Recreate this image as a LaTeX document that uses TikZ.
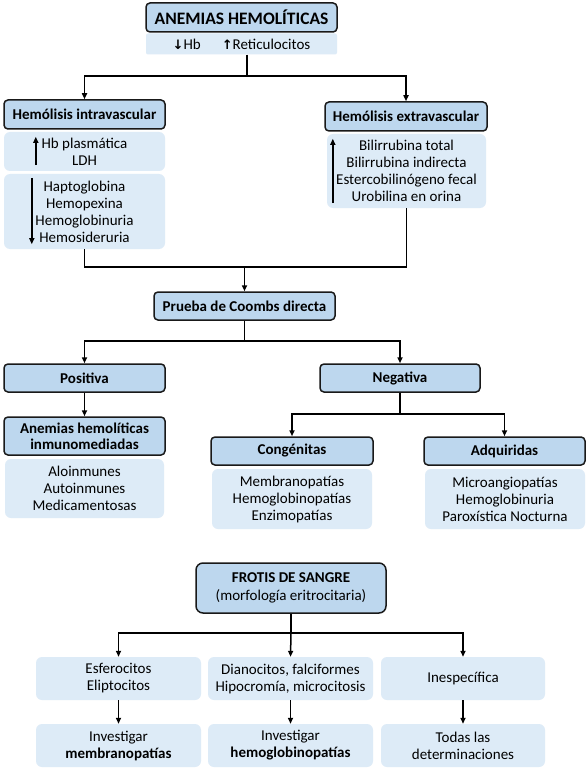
\documentclass[tikz,border=0pt]{standalone}
\usepackage{fontspec}
\setmainfont{Carlito}
\newfontfamily\arrowfont{DejaVu Sans}
\usetikzlibrary{arrows.meta}
\definecolor{hdrblue}{RGB}{189,215,238}
\definecolor{liteblue}{RGB}{221,235,247}
\newcommand{\flechaup}{{\arrowfont\fontsize{13}{13}\selectfont\bfseries ↑}}
\newcommand{\flechadn}{{\arrowfont\fontsize{13}{13}\selectfont\bfseries ↓}}
\tikzset{
  hdr/.style={draw=black!90, line width=1.5pt, rounded corners=4pt, fill=hdrblue,
    font=\fontsize{15}{17}\selectfont\bfseries, align=center, inner sep=0pt},
  lite/.style={fill=liteblue, rounded corners=6pt, align=center, inner sep=0pt,
    font=\fontsize{15}{17}\selectfont},
  boxsize/.style 2 args={minimum width=#1pt, minimum height=#2pt},
  link/.style={line width=1.5pt},
  arr/.style={line width=1.5pt, -{Triangle[length=6pt,width=5pt]}}
}

\begin{document}
\begin{tikzpicture}[x=1pt,y=-1pt]
\useasboundingbox[fill=white] (0,0) rectangle (587,770);

\node[hdr, boxsize={191}{29}, font=\fontsize{17.5}{19}\selectfont\bfseries] (anemias) at (241.5,17.5) {ANEMIAS HEMOLÍTICAS};
\node[lite, boxsize={191}{21}, rounded corners=2pt] (hbret) at (241.5,44) {\flechadn Hb\hspace{1.4em}\flechaup Reticulocitos};

\node[hdr, boxsize={161}{29}] (intra) at (84.5,114.5) {Hemólisis intravascular};
\node[lite, boxsize={161}{39}] (intraup) at (84.5,151.5) {Hb plasmática\\LDH};
\node[lite, boxsize={161}{75}] (intradn) at (84.5,211.5) {Haptoglobina\\Hemopexina\\Hemoglobinuria\\Hemosideruria};
\node[hdr, boxsize={162}{29}] (extra) at (406,116.5) {Hemólisis extravascular};
\node[lite, boxsize={159}{74}] (extraup) at (406.5,171) {Bilirrubina total\\Bilirrubina indirecta\\Estercobilinógeno fecal\\Urobilina en orina};

\draw[arr] ([xshift=32pt,yshift=6pt]intraup.south west) -- ([xshift=32pt,yshift=-5pt]intraup.north west);
\draw[arr] ([xshift=28pt,yshift=-4pt]intradn.north west) -- ([xshift=28pt,yshift=5pt]intradn.south west);
\draw[arr] ([xshift=6pt,yshift=5pt]extraup.south west) -- ([xshift=6pt,yshift=-5pt]extraup.north west);

\node[hdr, boxsize={181}{28}] (coombs) at (244.5,306) {Prueba de Coombs directa};
\node[hdr, boxsize={161}{28}] (positiva) at (84.5,378) {Positiva};
\node[hdr, boxsize={160}{28}] (negativa) at (400,378) {Negativa};
\node[hdr, boxsize={161}{38}, font=\fontsize{15}{16}\selectfont\bfseries] (inmuno) at (84.5,436) {Anemias hemolíticas\\inmunomediadas};
\node[lite, boxsize={159}{59}] (inmunolist) at (84.5,488.5) {Aloinmunes\\Autoinmunes\\Medicamentosas};
\node[hdr, boxsize={162}{28}] (congenitas) at (292,451) {Congénitas};
\node[lite, boxsize={160}{60}] (congenlist) at (292,499) {Membranopatías\\Hemoglobinopatías\\Enzimopatías};
\node[hdr, boxsize={161}{28}] (adquiridas) at (504.5,451) {Adquiridas};
\node[lite, boxsize={160}{60}] (adquilist) at (505,499) {Microangiopatías\\Hemoglobinuria\\Paroxística Nocturna};

\node[hdr, boxsize={190}{50}, rounded corners=7pt, font=\fontsize{15}{18}\selectfont] (frotis) at (291,588) {\textbf{FROTIS DE SANGRE}\\(morfología eritrocitaria)};
\node[lite, boxsize={165}{43}] (esfero) at (118.5,678.5) {Esferocitos\\Eliptocitos};
\node[lite, boxsize={165}{43}] (diano) at (290.5,678.5) {Dianocitos, falciformes\\Hipocromía, microcitosis};
\node[lite, boxsize={164}{43}] (inesp) at (463,678.5) {Inespecífica};
\node[lite, boxsize={165}{43}] (invmemb) at (118.5,745.5) {Investigar\\\textbf{membranopatías}};
\node[lite, boxsize={165}{43}] (invhemo) at (290.5,745.5) {Investigar\\\textbf{hemoglobinopatías}};
\node[lite, boxsize={164}{43}] (todas) at (463,745.5) {Todas las\\determinaciones};

\coordinate (split1) at (247,76);
\coordinate (join1) at (244.5,267);
\draw[link] (hbret.south -| split1) -- (split1);
\draw[arr] (split1) -| (intra.north);
\draw[arr] (split1) -| (extra.north);
\draw[link] (intradn.south) |- (join1) -| (extraup.south);
\draw[arr] (join1) -- (coombs.north);

\draw[link] (coombs.south) -- ++(0,20) coordinate (split2);
\draw[arr] (split2) -| (positiva.north);
\draw[arr] (split2) -| (negativa.north);
\draw[arr] (positiva) -- (inmuno);
\draw[link] (negativa.south) -- ++(0,21) coordinate (split3);
\draw[arr] (split3) -| (congenitas.north);
\draw[arr] (split3) -| (adquiridas.north);

\draw[link] (frotis.south) -- ++(0,19) coordinate (split4);
\draw[arr] (split4) -| (esfero.north);
\draw[arr] (split4) -- (diano.north);
\draw[arr] (split4) -| (inesp.north);
\draw[arr] (esfero) -- (invmemb);
\draw[arr] (diano) -- (invhemo);
\draw[arr] (inesp) -- (todas);
\end{tikzpicture}
\end{document}
